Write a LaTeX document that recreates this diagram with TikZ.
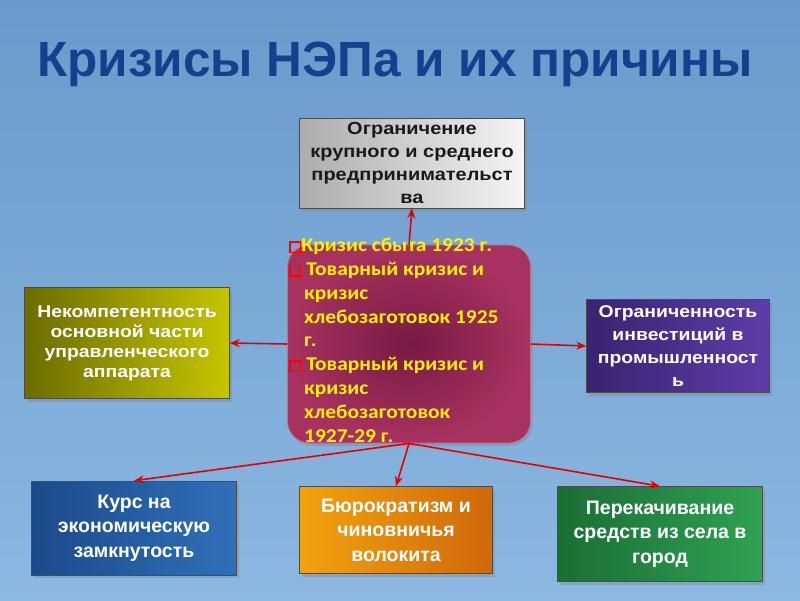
\documentclass[tikz,border=0pt]{standalone}
\usepackage{fontspec}
\setmainfont{Liberation Sans}
\newfontfamily\calfont{Carlito}[FakeStretch=1.1]
\newfontfamily\widefont{Liberation Sans}[FakeStretch=1.14]
\usetikzlibrary{arrows.meta,shadows}
\definecolor{bgtop}{HTML}{6A9ACB}
\definecolor{bgbot}{HTML}{8CB8E2}
\definecolor{titlec}{HTML}{163F8E}
\definecolor{crisisc}{HTML}{761A43}
\definecolor{crisise}{HTML}{A8325F}
\definecolor{coursel}{HTML}{1B4A8A}
\definecolor{courser}{HTML}{3070B8}
\definecolor{bureaul}{HTML}{F2A30F}
\definecolor{bureaur}{HTML}{D0680A}
\definecolor{pumpl}{HTML}{1A6E33}
\definecolor{pumpr}{HTML}{2FA253}
\definecolor{investl}{HTML}{3A2370}
\definecolor{investr}{HTML}{5E3DA8}
\tikzset{
  box/.style={draw=black!70, line width=0.6pt, align=center, inner sep=2pt,
              font=\widefont\bfseries\fontsize{17}{20}\selectfont, text=white,
              drop shadow={opacity=0.35, shadow xshift=2pt, shadow yshift=-3pt}},
  graybox/.style={box, left color=gray!65, right color=gray!8, text=black!90,
                  minimum width=225pt, minimum height=90pt,
                  font=\widefont\bfseries\fontsize{17.5}{23}\selectfont},
  olivebox/.style={box, left color=olive!85!black, right color=yellow!55!olive,
                   minimum width=205pt, minimum height=111pt},
  purplebox/.style={box, left color=investl, right color=investr,
                    minimum width=183pt, minimum height=93pt,
                    font=\widefont\bfseries\fontsize{17}{23}\selectfont},
  lowbox/.style={box, font=\bfseries\fontsize{19.5}{24.5}\selectfont},
  arr/.style={-{Stealth[length=10pt,width=8pt]}, red!90!black, line width=1.6pt},
}
\newcommand{\redsq}{{\color{red}\setlength\fboxrule{1.6pt}\setlength\fboxsep{0pt}%
  \fbox{\rule{0pt}{9pt}\hspace{9pt}}}}

\begin{document}
\begin{tikzpicture}[x=1pt, y=-1pt]
\useasboundingbox (0,0) rectangle (800,600);
\shade[top color=bgtop, bottom color=bgbot] (0,0) rectangle (800,600);

\node[font=\bfseries\fontsize{49.5}{52}\selectfont, text=titlec] (title) at (395,64) {Кризисы НЭПа и их причины};

% the crisis block in the middle
\node[draw=crisise!70!white, line width=0.8pt, rounded corners=22pt,
      inner color=crisisc, outer color=crisise,
      minimum width=243pt, minimum height=198pt,
      drop shadow={opacity=0.35, shadow xshift=2pt, shadow yshift=-3pt}] (crisis) at (409,344) {};
\node[anchor=north west, align=left, text=yellow, inner sep=0pt,
      font=\calfont\bfseries\fontsize{19.5}{23.8}\selectfont] (crisistxt) at (289,238)
  {\redsq Кризис сбыта 1923 г.\\
   \redsq\ Товарный кризис и\\
   \hspace*{15pt}кризис\\
   \hspace*{15pt}хлебозаготовок 1925\\
   \hspace*{15pt}г.\\
   \redsq\ Товарный кризис и\\
   \hspace*{15pt}кризис\\
   \hspace*{15pt}хлебозаготовок\\
   \hspace*{15pt}1927-29 г.};

\node[graybox] (limit) at (412,163) {Ограничение\\крупного и среднего\\предпринимательст\\ва};
\node[olivebox] (incomp) at (127,343) {Некомпетентность\\основной части\\управленческого\\аппарата};
\node[purplebox] (invest) at (678,346) {Ограниченность\\инвестиций в\\промышленност\\ь};
\node[lowbox, left color=coursel, right color=courser,
      minimum width=205pt, minimum height=94pt] (course) at (134,528) {Курс на\\экономическую\\замкнутость};
\node[lowbox, left color=bureaul, right color=bureaur,
      minimum width=193pt, minimum height=87pt] (bureau) at (396,530) {Бюрократизм и\\чиновничья\\волокита};
\node[lowbox, left color=pumpl, right color=pumpr,
      minimum width=205pt, minimum height=95pt] (pump) at (660,534) {Перекачивание\\средств из села в\\город};

\draw[arr] (crisis.north) -- (limit.south);
\draw[arr] (crisis.west) -- (incomp.east);
\draw[arr] (crisis.east) -- (invest.west);
\draw[arr] (crisis.south) -- (course.north);
\draw[arr] (crisis.south) -- (bureau.north);
\draw[arr] (crisis.south) -- (pump.north);
\end{tikzpicture}
\end{document}
